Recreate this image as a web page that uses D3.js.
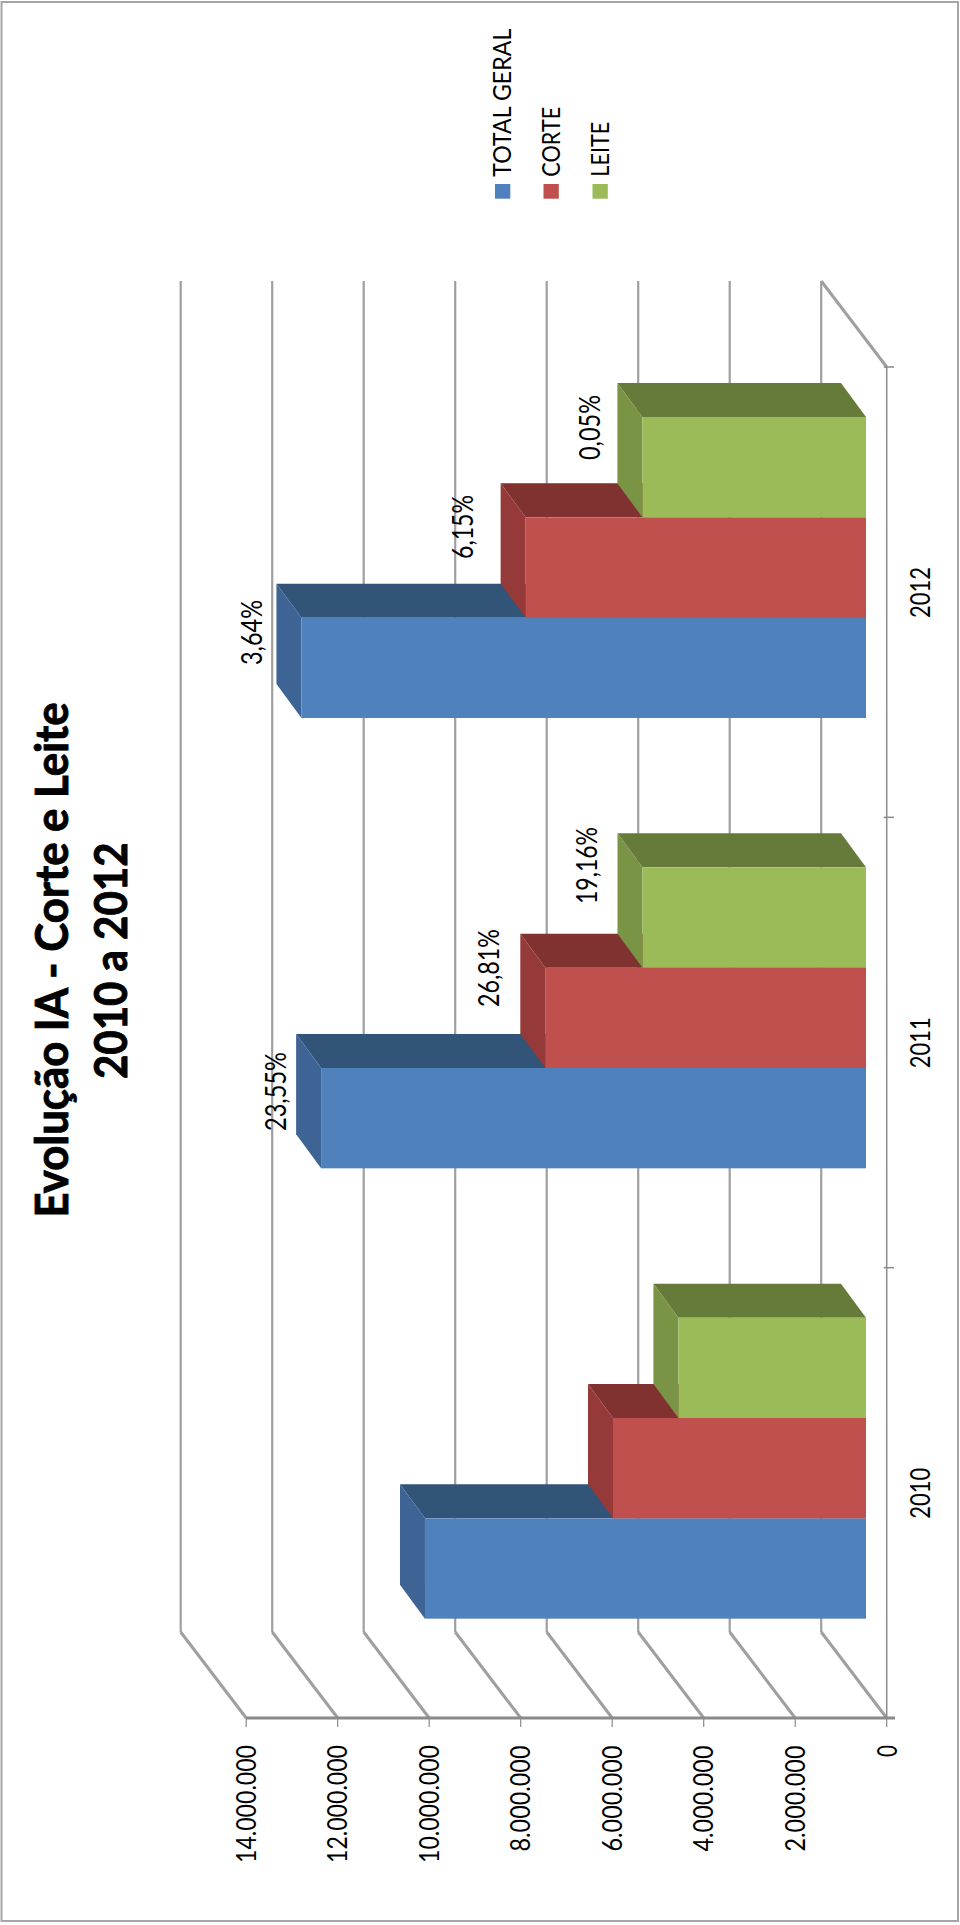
<!DOCTYPE html>
<html><head><meta charset="utf-8">
<script src="https://d3js.org/d3.v7.min.js"></script>
<style>html,body{margin:0;padding:0;background:#fff}svg{display:block}text{font-family:Lato,"Open Sans",sans-serif;fill:#000}</style>
</head><body><div id="c"></div>
<script>
const years = ["2012","2011","2010"];
const seriesNames = ["TOTAL GERAL","CORTE","LEITE"];
const totalGeral = [12340000, 11910000, 9640000];
const corte = [7440000, 7010000, 5530000];
const leite = [4888000, 4885000, 4100000];
const seriesValues = [totalGeral, corte, leite];
const tickValues = [0,2000000,4000000,6000000,8000000,10000000,12000000,14000000];
const pctLabels = [["3,64%","6,15%","0,05%"],["23,55%","26,81%","19,16%"],[null,null,null]];
const titleLines = ["Evolução IA - Corte e Leite","2010 a 2012"];

const faceColors = [
  {front:"#4f81bd", side:"#3e6495", top:"#325479"},
  {front:"#c0504d", side:"#953a38", top:"#7f3230"},
  {front:"#9bbb59", side:"#7a9445", top:"#667a3a"}
];
// layout of manually placed labels: [baseline x, lower y, length]
const pctPlace = [[[262,665,65],[473,559,64],[600.4,460,65]],[[286,1131,79],[499,1007,78],[597,904,77]],[]];

const W=960,H=1925;
const svg=d3.select("#c").append("svg").attr("width",W).attr("height",H);
const x=d3.scaleLinear().domain([0,14000000]).range([886.7,246.2]);
const yCat=d3.scaleBand().domain(years).range([367,1718]);
const ySer=d3.scaleBand().domain(["LEITE","CORTE","TOTAL GERAL"]).range([50,351]);
const axisY=1718, wallDx=-65.5, wallDy=-86, wallTop=281;
const barShift=-20.7, barDx=-25, barDy=-34;
const gridColor="#9f9f9f", axisColor="#8a8a8a";

svg.append("rect").attr("x",1.5).attr("y",2).attr("width",956.5).attr("height",1919).attr("fill","#fff").attr("stroke","#a6a6a6").attr("stroke-width",2);

function rotText(sel,t,xb,yb,len,fs,weight,sw){
  const n=sel.append("text").text(t).attr("transform",`translate(${xb},${yb}) rotate(-90)`)
   .attr("font-size",fs).attr("font-weight",weight||400)
   .attr("textLength",len).attr("lengthAdjust","spacingAndGlyphs");
  if(sw) n.attr("stroke","#000").attr("stroke-width",sw);
  return n;
}
// walls
const grid=svg.append("g");
tickValues.forEach(v=>{
  const px=x(v);
  grid.append("path").attr("d",`M${px+wallDx},${wallTop}V${axisY+wallDy}`)
    .attr("fill","none").attr("stroke",gridColor).attr("stroke-width",2.2);
  grid.append("path").attr("d",`M${px+wallDx},${axisY+wallDy}L${px},${axisY}`)
    .attr("fill","none").attr("stroke",gridColor).attr("stroke-width",3);
});
grid.append("path").attr("d",`M${x(0)+wallDx},${wallTop}L${x(0)},${yCat.range()[0]}`)
   .attr("fill","none").attr("stroke",gridColor).attr("stroke-width",3);
// axes
const ax=svg.append("g");
ax.append("line").attr("x1",x(14000000)).attr("x2",895).attr("y1",axisY).attr("y2",axisY).attr("stroke",axisColor).attr("stroke-width",2.8);
ax.append("line").attr("x1",x(0)).attr("x2",x(0)).attr("y1",yCat.range()[0]).attr("y2",axisY).attr("stroke",axisColor).attr("stroke-width",1.5);
tickValues.forEach(v=>ax.append("line").attr("x1",x(v)).attr("x2",x(v)).attr("y1",axisY).attr("y2",axisY+9).attr("stroke",axisColor).attr("stroke-width",1.2));
[...years.map(d=>yCat(d)),axisY].forEach(p=>ax.append("line").attr("x1",x(0)-3).attr("x2",894).attr("y1",p).attr("y2",p).attr("stroke",axisColor).attr("stroke-width",1.5));
const fmt=v=>v===0?"0":d3.format(",")(v).replace(/,/g,".");
const tickLen=v=>v===0?12:(v>=10000000?118:106);
tickValues.forEach(v=>rotText(ax,fmt(v),x(v)+(v===0?10:9.5),v===0?1757:(v>=10000000?1863:1851.5),tickLen(v),26));
years.forEach(d=>rotText(ax,d,930.3,yCat(d)+251,51,27));

// bars
const base=x(0)+barShift;
years.forEach((yr,i)=>{
  const g=svg.append("g");
  seriesNames.forEach((s,k)=>{
    const xv=x(seriesValues[k][i])+barShift;
    const y0=yCat(yr)+ySer(s), h=ySer.bandwidth(), y1=y0+h, c=faceColors[k];
    g.append("path").attr("fill",c.top).attr("d",d3.line()([[xv,y0],[base,y0],[base+barDx,y0+barDy],[xv+barDx,y0+barDy]])+"Z");
    g.append("path").attr("fill",c.side).attr("d",d3.line()([[xv,y0],[xv,y1],[xv+barDx,y1+barDy],[xv+barDx,y0+barDy]])+"Z");
    g.append("rect").attr("x",xv).attr("y",y0).attr("width",base-xv).attr("height",h).attr("fill",c.front);
    const lab=pctLabels[i][k];
    if(lab){const p=pctPlace[i][k]; rotText(g,lab,p[0],p[1],p[2],28);}
  });
});

// legend
const legX=[510.5,559,608], legLen=[148,70,55];
seriesNames.forEach((s,k)=>{
  svg.append("rect").attr("x",legX[k]-15.5).attr("y",184).attr("width",15.3).attr("height",14.7).attr("fill",faceColors[k].front);
  rotText(svg,s,legX[k]+0.5,176.7,legLen[k],25);
});
// title
rotText(svg,titleLines[0],68.3,1217.5,515,46,700,0.9);
rotText(svg,titleLines[1],126.7,1079,236.5,46,700,0.9);
</script></body></html>
